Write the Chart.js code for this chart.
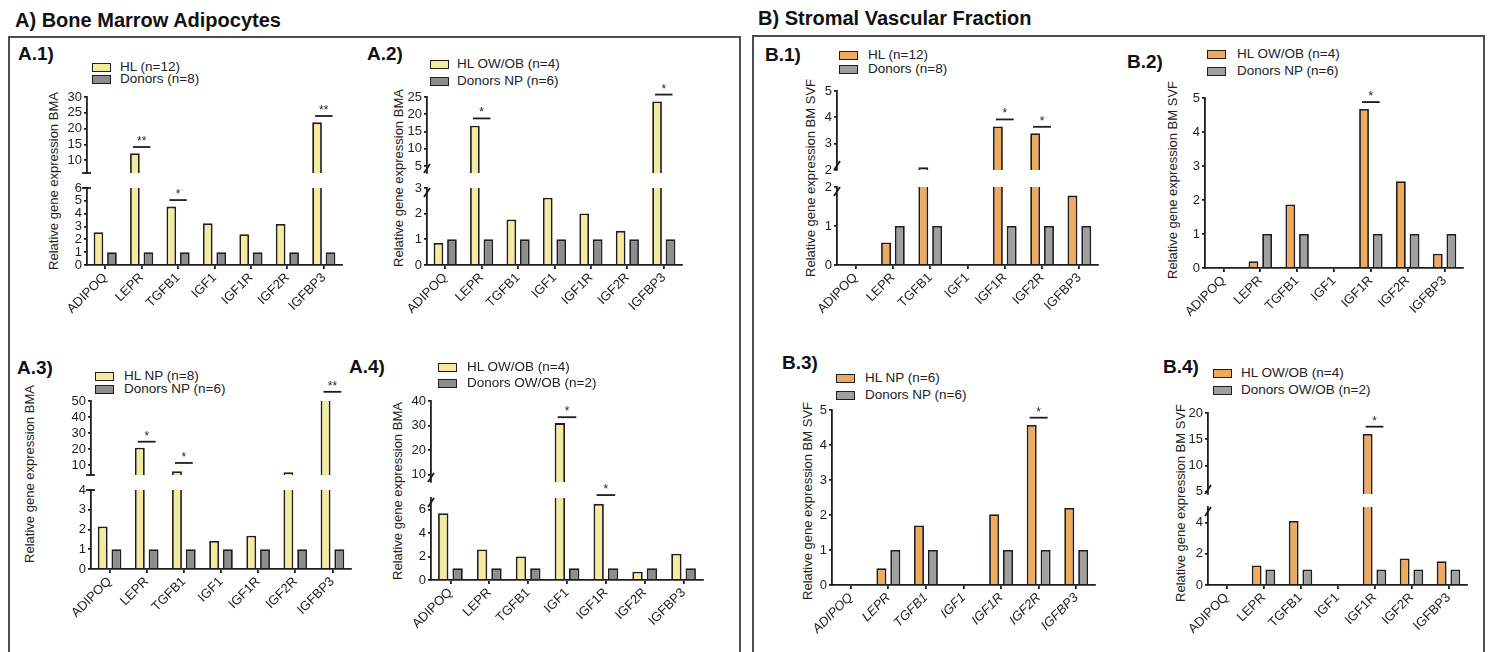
<!DOCTYPE html>
<html>
<head>
<meta charset="utf-8">
<script src="https://cdn.jsdelivr.net/npm/chart.js@4.4.1/dist/chart.umd.min.js"></script>
<style>
  body { margin: 0; background: #fff; }
  #fig { position: relative; width: 1491px; height: 652px; overflow: hidden; font-family: "Liberation Sans", Arial, sans-serif; color: #222; }
  #fig div { position: absolute; white-space: nowrap; line-height: 1; }
  .frame { border: 2px solid #4d4d4d; box-sizing: border-box; }
</style>
</head>
<body>
<div id="fig"></div>
<script>
// Categories (same for every panel)
const genes = ['ADIPOQ', 'LEPR', 'TGFB1', 'IGF1', 'IGF1R', 'IGF2R', 'IGFBP3'];

// A) Bone marrow adipocytes
const a1HL = [2.55, 12.2, 4.55, 3.25, 2.4, 3.2, 22];
const a1Donors = [1, 1, 1, 1, 1, 1, 1];
const a2HL = [0.86, 16.7, 1.77, 2.62, 2.01, 1.33, 23.7];
const a2Donors = [1, 1, 1, 1, 1, 1, 1];
const a3HL = [2.15, 21, 6.3, 1.42, 1.68, 5.7, 52];
const a3Donors = [1, 1, 1, 1, 1, 1, 1];
const a4HL = [5.7, 2.6, 2.0, 31, 6.5, 0.7, 2.25];
const a4Donors = [1, 1, 1, 1, 1, 1, 1];

// B) Stromal vascular fraction (ADIPOQ and IGF1 not detected)
const b1HL = [null, 0.58, 2.1, null, 3.65, 3.4, 1.78];
const b1Donors = [null, 1, 1, null, 1, 1, 1];
const b2HL = [null, 0.2, 1.87, null, 4.68, 2.55, 0.42];
const b2Donors = [null, 1, 1, null, 1, 1, 1];
const b3HL = [null, 0.48, 1.7, null, 2.02, 4.57, 2.2];
const b3Donors = [null, 1, 1, null, 1, 1, 1];
const b4HL = [null, 1.25, 4.1, null, 16, 1.7, 1.52];
const b4Donors = [null, 1, 1, null, 1, 1, 1];

// Legend texts
const a1Legend = ['HL (n=12)', 'Donors (n=8)'];
const a2Legend = ['HL OW/OB (n=4)', 'Donors NP (n=6)'];
const a3Legend = ['HL NP (n=8)', 'Donors NP (n=6)'];
const a4Legend = ['HL OW/OB (n=4)', 'Donors OW/OB (n=2)'];
const b1Legend = ['HL (n=12)', 'Donors (n=8)'];
const b2Legend = ['HL OW/OB (n=4)', 'Donors NP (n=6)'];
const b3Legend = ['HL NP (n=6)', 'Donors NP (n=6)'];
const b4Legend = ['HL OW/OB (n=4)', 'Donors OW/OB (n=2)'];

// Y tick labels (upper / lower part of broken axes)
const a1TopTicks = [10, 15, 20, 25, 30];
const a1BotTicks = [0, 1, 2, 3, 4, 5, 6];
const a2TopTicks = [5, 10, 15, 20, 25];
const a2BotTicks = [0, 1, 2, 3];
const a3TopTicks = [10, 20, 30, 40, 50];
const a3BotTicks = [0, 1, 2, 3, 4];
const a4TopTicks = [10, 20, 30, 40];
const a4BotTicks = [0, 2, 4, 6];
const b1TopTicks = [2, 3, 4, 5];
const b1BotTicks = [0, 1, 2];
const b2Ticks = [0, 1, 2, 3, 4, 5];
const b3Ticks = [0, 1, 2, 3, 4, 5];
const b4TopTicks = [5, 10, 15, 20];
const b4BotTicks = [0, 2, 4];

// Significance bars: gene index, height, stars
const a1Sig = [{ i: 1, v: 14.2, m: '**' }, { i: 2, v: 5.06, m: '*' }, { i: 6, v: 24, m: '**' }];
const a2Sig = [{ i: 1, v: 18.8, m: '*' }, { i: 6, v: 25.7, m: '*' }];
const a3Sig = [{ i: 1, v: 24.7, m: '*' }, { i: 2, v: 11.5, m: '*' }, { i: 6, v: 55.7, m: '**' }];
const a4Sig = [{ i: 3, v: 33.4, m: '*' }, { i: 4, v: 7.25, m: '*' }];
const b1Sig = [{ i: 4, v: 3.92, m: '*' }, { i: 5, v: 3.64, m: '*' }];
const b2Sig = [{ i: 4, v: 4.88, m: '*' }];
const b3Sig = [{ i: 5, v: 4.78, m: '*' }];
const b4Sig = [{ i: 4, v: 17.4, m: '*' }];

// Colours
const INK = '#1e1e1e';
const YELLOW = '#f3eb9f';
const ORANGE = '#efaa5e';
const GREY_A = '#8d8d8d';
const GREY_B = '#a0a0a0';
const FONT = '"Liberation Sans", Arial, sans-serif';

// Layout of the eight panels
const panels = [
  { name: 'A.1)', nameAt: [18, 60], hl: a1HL, donors: a1Donors, fill: YELLOW, grey: GREY_A, legend: a1Legend,
    legendAt: { x: 92, rows: [67, 79], tx: 120 }, yTitle: 'Relative gene expression BMA', yTitleAt: [53, 181],
    x0: 87, x1: 342, brk: 'cap', sig: a1Sig,
    segs: [{ min: 6, max: 30, ticks: a1TopTicks, top: 97, bottom: 173 }, { min: 0, max: 6, ticks: a1BotTicks, top: 188, bottom: 265 }] },
  { name: 'A.2)', nameAt: [367, 60], hl: a2HL, donors: a2Donors, fill: YELLOW, grey: GREY_A, legend: a2Legend,
    legendAt: { x: 430, rows: [64, 81], tx: 457 }, yTitle: 'Relative gene expression BMA', yTitleAt: [398, 178],
    x0: 427, x1: 682, brk: 'slash', sig: a2Sig,
    segs: [{ min: 3, max: 25, ticks: a2TopTicks, top: 97, bottom: 173 }, { min: 0, max: 3, ticks: a2BotTicks, top: 188, bottom: 265 }] },
  { name: 'A.3)', nameAt: [17, 374], hl: a3HL, donors: a3Donors, fill: YELLOW, grey: GREY_A, legend: a3Legend,
    legendAt: { x: 95, rows: [376, 389], tx: 124 }, yTitle: 'Relative gene expression BMA', yTitleAt: [29, 474],
    x0: 91, x1: 351, brk: 'cap', sig: a3Sig,
    segs: [{ min: 4, max: 50, ticks: a3TopTicks, top: 401, bottom: 475 }, { min: 0, max: 4, ticks: a3BotTicks, top: 490, bottom: 569 }] },
  { name: 'A.4)', nameAt: [349, 373], hl: a4HL, donors: a4Donors, fill: YELLOW, grey: GREY_A, legend: a4Legend,
    legendAt: { x: 438, rows: [367, 383], tx: 467 }, yTitle: 'Relative gene expression BMA', yTitleAt: [397, 491],
    x0: 431, x1: 703, brk: 'slash', sig: a4Sig,
    segs: [{ min: 7, max: 40, ticks: a4TopTicks, top: 401, bottom: 482 }, { min: 0, max: 7, ticks: a4BotTicks, top: 498, bottom: 580 }] },
  { name: 'B.1)', nameAt: [765, 61], hl: b1HL, donors: b1Donors, fill: ORANGE, grey: GREY_B, legend: b1Legend,
    legendAt: { x: 839, rows: [55, 69], tx: 868 }, yTitle: 'Relative gene expression BM SVF', yTitleAt: [810, 178],
    x0: 837, x1: 1098, brk: 'slash', sig: b1Sig,
    segs: [{ min: 2, max: 5, ticks: b1TopTicks, top: 91, bottom: 170 }, { min: 0, max: 2, ticks: b1BotTicks, top: 187, bottom: 265 }] },
  { name: 'B.2)', nameAt: [1127, 68], hl: b2HL, donors: b2Donors, fill: ORANGE, grey: GREY_B, legend: b2Legend,
    legendAt: { x: 1207, rows: [54, 71], tx: 1237 }, yTitle: 'Relative gene expression BM SVF', yTitleAt: [1172, 180],
    x0: 1205, x1: 1463, brk: null, sig: b2Sig,
    segs: [{ min: 0, max: 5, ticks: b2Ticks, top: 98, bottom: 268 }] },
  { name: 'B.3)', nameAt: [782, 369], hl: b3HL, donors: b3Donors, fill: ORANGE, grey: GREY_B, legend: b3Legend,
    legendAt: { x: 836, rows: [378, 395], tx: 865 }, yTitle: 'Relative gene expression BM SVF', yTitleAt: [807, 501],
    x0: 832, x1: 1095, brk: null, sig: b3Sig, italic: true,
    segs: [{ min: 0, max: 5, ticks: b3Ticks, top: 410, bottom: 585 }] },
  { name: 'B.4)', nameAt: [1163, 373], hl: b4HL, donors: b4Donors, fill: ORANGE, grey: GREY_B, legend: b4Legend,
    legendAt: { x: 1213, rows: [373, 390], tx: 1241 }, yTitle: 'Relative gene expression BM SVF', yTitleAt: [1180, 503],
    x0: 1208, x1: 1467, brk: 'slash', sig: b4Sig,
    segs: [{ min: 4.6, max: 20, ticks: b4TopTicks, top: 413, bottom: 494 }, { min: 0, max: 5, ticks: b4BotTicks, top: 507, bottom: 585 }] }
];

const fig = document.getElementById('fig');
const YW = 40;   // fixed y-axis box width
const PT = 24;   // room above each plot area (stars, tick labels)
const PB = 10;   // room below an upper segment
const PR = 8;    // right padding
const XH = 80;   // x-axis box height (rotated gene names)

function addText(str, x, baseline, size, extra) {
  const d = document.createElement('div');
  d.textContent = str;
  d.style.left = x + 'px';
  d.style.top = (baseline - 0.8465 * size) + 'px';
  d.style.fontSize = size + 'px';
  if (extra) Object.assign(d.style, extra);
  fig.appendChild(d);
  return d;
}

function addFrame(left, top, right) {
  const d = document.createElement('div');
  d.className = 'frame';
  d.style.left = left + 'px';
  d.style.top = top + 'px';
  d.style.width = (right - left) + 'px';
  d.style.height = '700px';
  fig.appendChild(d);
}

// which segment holds the top of a bar
function segIndexFor(p, value) {
  for (let k = 0; k < p.segs.length; k++) {
    if (value >= p.segs[k].min) return k;
  }
  return p.segs.length - 1;
}

function makeSegment(p, seg, k) {
  const last = k === p.segs.length - 1;
  const left = p.x0 - YW;
  const top = seg.top - PT;
  const w = p.x1 - left + PR;
  const h = seg.bottom - seg.top + PT + (last ? XH : PB);
  const cv = document.createElement('canvas');
  cv.width = w;
  cv.height = h;
  cv.style.cssText = `position:absolute;left:${left}px;top:${top}px;width:${w}px;height:${h}px`;
  fig.appendChild(cv);

  const sig = p.sig.filter(s => segIndexFor(p, p.hl[s.i]) === k);
  const broken = p.segs.length > 1;

  const marks = {
    id: 'marks',
    afterDraw(chart) {
      const ctx = chart.ctx;
      const a = chart.chartArea;
      const xs = chart.scales.x;
      const ys = chart.scales.y;
      ctx.save();
      ctx.strokeStyle = INK;
      ctx.fillStyle = INK;
      ctx.lineWidth = 1.8;
      // axis break marks
      if (broken && p.brk) {
        const x = a.left;
        ctx.beginPath();
        if (p.brk === 'cap') {
          const y = last ? a.top : a.bottom;
          ctx.moveTo(x - 5, y);
          ctx.lineTo(x + 4, y);
        } else if (last) {
          ctx.moveTo(x - 3, a.top + 9);
          ctx.lineTo(x + 3, a.top);
        } else {
          ctx.moveTo(x - 3, a.bottom);
          ctx.lineTo(x + 3, a.bottom - 9);
        }
        ctx.stroke();
      }
      // significance bars
      const cw = xs.width / genes.length;
      ctx.font = '12px ' + FONT;
      ctx.textAlign = 'center';
      ctx.textBaseline = 'alphabetic';
      sig.forEach(s => {
        const cx = xs.getPixelForValue(s.i);
        const y = ys.getPixelForValue(s.v);
        ctx.beginPath();
        ctx.moveTo(cx - 0.24 * cw, y);
        ctx.lineTo(cx + 0.24 * cw, y);
        ctx.stroke();
        ctx.fillText(s.m, cx, y - 2);
      });
      ctx.restore();
    }
  };

  const bar = (label, data, color) => ({
    label, data,
    backgroundColor: color,
    borderColor: INK,
    borderWidth: 1.8,
    borderSkipped: 'start',
    categoryPercentage: 0.74,
    barPercentage: 0.72,
    clip: 0
  });

  new Chart(cv, {
    type: 'bar',
    data: {
      labels: genes,
      datasets: [bar(p.legend[0], p.hl, p.fill), bar(p.legend[1], p.donors, p.grey)]
    },
    options: {
      responsive: false,
      animation: false,
      events: [],
      layout: { padding: { top: PT, bottom: last ? 0 : PB, left: 0, right: PR } },
      plugins: { legend: { display: false }, tooltip: { enabled: false } },
      scales: {
        x: {
          display: last,
          offset: true,
          grid: { offset: false, drawOnChartArea: false, tickLength: 4, color: INK, lineWidth: 1.8 },
          border: { color: INK, width: 1.8 },
          ticks: {
            autoSkip: false, minRotation: 45, maxRotation: 45, padding: 1, color: INK,
            font: { size: 13, family: FONT, style: p.italic ? 'italic' : 'normal' }
          },
          // only the lowest segment carries the gene names
          afterFit: s => { s.height = last ? XH : 0; }
        },
        y: {
          min: seg.min,
          max: seg.max,
          afterBuildTicks: s => { s.ticks = seg.ticks.map(v => ({ value: v })); },
          grid: { drawOnChartArea: false, tickLength: 3, color: INK, lineWidth: 1.8 },
          border: { color: INK, width: 1.8 },
          ticks: { autoSkip: false, padding: 2, color: INK, font: { size: 13, family: FONT } },
          afterFit: s => { s.width = YW; }
        }
      }
    },
    plugins: [marks]
  });
}

function makePanel(p) {
  addText(p.name, p.nameAt[0], p.nameAt[1], 19, { fontWeight: 'bold', color: '#111' });

  // legend
  const L = p.legendAt;
  [p.fill, p.grey].forEach((c, r) => {
    const box = document.createElement('div');
    box.style.cssText = `left:${L.x}px;top:${L.rows[r] - 4.5}px;width:19px;height:9px;background:${c};border:1.5px solid ${INK};box-sizing:border-box`;
    fig.appendChild(box);
    addText(p.legend[r], L.tx, L.rows[r] + 4.8, 13.5);
  });

  // y-axis title, centred over the whole (broken) axis
  const t = addText(p.yTitle, 0, 0, 13, {});
  t.style.left = p.yTitleAt[0] + 'px';
  t.style.top = p.yTitleAt[1] + 'px';
  t.style.transform = 'translate(-50%, -50%) rotate(-90deg)';

  p.segs.forEach((seg, k) => makeSegment(p, seg, k));
}

Chart.defaults.font.family = FONT;
Chart.defaults.color = INK;

addFrame(8, 36, 741);
addFrame(752, 35, 1485);
addText('A) Bone Marrow Adipocytes', 15, 26.5, 20, { fontWeight: 'bold', color: '#111' });
addText('B) Stromal Vascular Fraction', 758, 25, 20, { fontWeight: 'bold', color: '#111' });

panels.forEach(makePanel);
</script>
</body>
</html>
